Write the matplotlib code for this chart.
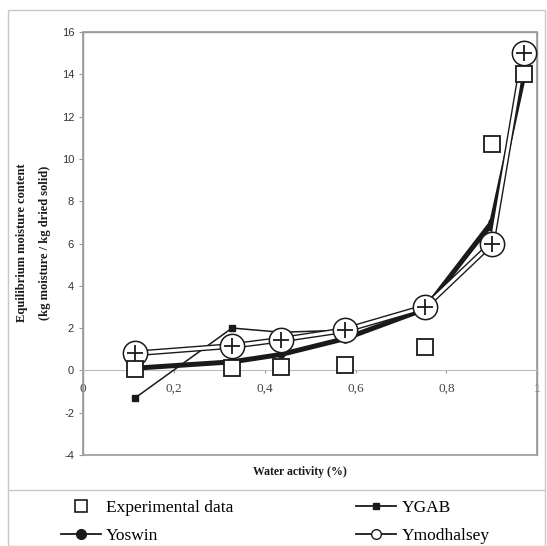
import matplotlib

matplotlib.use("Agg")
import matplotlib.pyplot as plt
import matplotlib.patheffects as pe
from matplotlib.lines import Line2D
from matplotlib.patches import Rectangle

# --- values -----------------------------------------------------------------
WATER_ACTIVITY = [0.115, 0.328, 0.436, 0.577, 0.753, 0.90, 0.971]
EXPERIMENTAL = [0.05, 0.1, 0.15, 0.25, 1.1, 10.7, 14.0]
YGAB = [-1.3, 2.0, 1.8, 1.9, 3.0, 6.8, 14.0]
YOSWIN = [0.1, 0.4, 0.75, 1.5, 2.9, 7.0, 14.0]
YMODHALSEY = [0.8, 1.15, 1.45, 1.9, 3.0, 6.0, 15.0]

X_TICKS = [0, 0.2, 0.4, 0.6, 0.8, 1.0]
X_TICK_LABELS = ["0", "0,2", "0,4", "0,6", "0,8", "1"]
Y_TICKS = list(range(-4, 17, 2))

INK = "#1a1a1a"
FRAME = "#9a9a9a"
SERIF = "Liberation Serif"
SANS = "Liberation Sans"

fig = plt.figure(figsize=(5.47, 5.46), dpi=100)
ax = fig.add_axes([0.152, 0.167, 0.83, 0.774])

# outer chart frame and legend separator
fig.patches.append(Rectangle((8 / 547, 0), 537 / 547, 1 - 10 / 546,
                             transform=fig.transFigure, fill=False,
                             edgecolor="#c8c8c8", linewidth=1.0))
fig.add_artist(Line2D([8 / 547, 545 / 547], [1 - 490 / 546, 1 - 490 / 546],
                      transform=fig.transFigure, color="#c8c8c8", linewidth=1.0))

ax.plot(WATER_ACTIVITY, YOSWIN, color=INK, linewidth=3.6, marker="o",
        markersize=5, markerfacecolor=INK, zorder=3)
ax.plot(WATER_ACTIVITY, YGAB, color=INK, linewidth=1.1, marker="s",
        markersize=5, markerfacecolor=INK, zorder=4)
ax.plot(WATER_ACTIVITY, YMODHALSEY, color="white", linewidth=2.2, zorder=5,
        path_effects=[pe.Stroke(linewidth=4.2, foreground=INK), pe.Normal()])
ax.plot(WATER_ACTIVITY, YMODHALSEY, linestyle="none", marker="o",
        markersize=17.5, markerfacecolor="white", markeredgecolor=INK,
        markeredgewidth=1.1, zorder=6)
ax.plot(WATER_ACTIVITY, YMODHALSEY, linestyle="none", marker="+",
        markersize=11, markeredgecolor=INK, markeredgewidth=1.3, zorder=7)
ax.plot(WATER_ACTIVITY, EXPERIMENTAL, linestyle="none", marker="s",
        markersize=11, markerfacecolor="white", markeredgecolor=INK,
        markeredgewidth=1.3, zorder=8)

# x axis line sits at y = 0 (set before ticks: moving a spine resets them)
for side in ("top", "right", "left"):
    ax.spines[side].set_color(FRAME)
    ax.spines[side].set_linewidth(1.0)
ax.spines["bottom"].set_position(("data", 0))
ax.spines["bottom"].set_color("#bbbbbb")
ax.spines["bottom"].set_linewidth(0.8)
ax.add_patch(Rectangle((0, 0), 1, 1, transform=ax.transAxes, fill=False,
                       edgecolor=FRAME, linewidth=1.2, clip_on=False, zorder=0))

ax.set_xlim(0, 1)
ax.set_ylim(-4, 16)
ax.set_yticks(Y_TICKS)
ax.set_yticklabels([str(t) for t in Y_TICKS])
ax.set_xticks(X_TICKS)
ax.set_xticklabels(X_TICK_LABELS)
for lab in ax.get_yticklabels():
    lab.set_fontfamily(SANS)
    lab.set_fontsize(8)
    lab.set_color("#333333")
for lab in ax.get_xticklabels():
    lab.set_fontfamily(SERIF)
    lab.set_fontsize(9.5)
    lab.set_color("#444444")
ax.tick_params(axis="both", color=FRAME, length=3, width=0.8)
ax.tick_params(axis="x", pad=7, length=2)

fig.text(0.548, 1 - 472 / 546, "Water activity (%)", ha="center", va="center",
         fontsize=8.5, fontweight="bold", family=SERIF, color=INK)
fig.text(22 / 547, 0.555, "Equilibrium moisture content", rotation=90,
         ha="center", va="center", fontsize=9, fontweight="bold",
         family=SERIF, color=INK)
fig.text(45 / 547, 0.555, "(kg moisture / kg dried solid)", rotation=90,
         ha="center", va="center", fontsize=9, fontweight="bold",
         family=SERIF, color=INK)

handles = [
    Line2D([], [], linestyle="none", marker="s", markersize=9,
           markerfacecolor="white", markeredgecolor=INK, markeredgewidth=1.2),
    Line2D([], [], color=INK, linewidth=1.3, marker="o", markersize=7,
           markerfacecolor=INK),
    Line2D([], [], color=INK, linewidth=1.3, marker="s", markersize=5,
           markerfacecolor=INK),
    Line2D([], [], color=INK, linewidth=1.3, marker="o", markersize=7,
           markerfacecolor="white", markeredgewidth=1.0),
]
labels = ["Experimental data", "Yoswin", "YGAB", "Ymodhalsey"]
fig.legend(handles, labels, ncol=2, loc="center", frameon=False,
           bbox_to_anchor=(0.503, 1 - 522 / 546),
           prop={"family": SERIF, "size": 12.5}, handlelength=2.3,
           handletextpad=0.3, columnspacing=7.1, labelspacing=0.7)

fig.savefig("out.png", dpi=100, facecolor="white")
